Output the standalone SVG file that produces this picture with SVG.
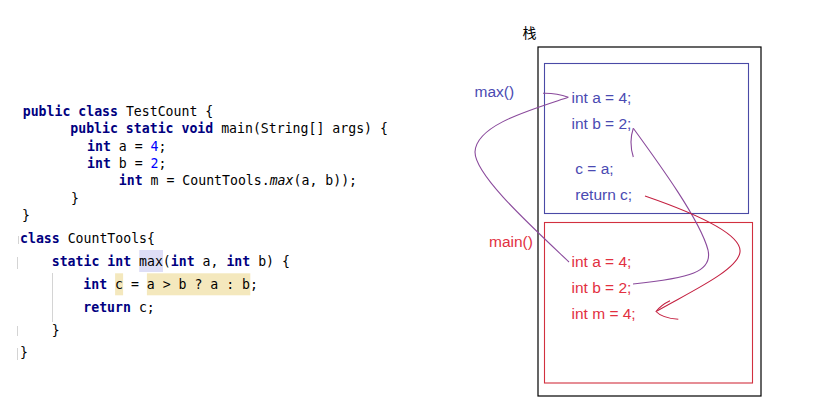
<svg xmlns="http://www.w3.org/2000/svg" width="828" height="406" viewBox="0 0 828 406">
<style>
.code{font-family:"DejaVu Sans Mono","Liberation Mono",monospace;font-size:13.2px;fill:#000}
.kw{font-weight:bold;fill:#000080}
.num{fill:#0000ff}
.it{font-style:italic}
.lbl{font-family:"Liberation Sans",Arial,sans-serif;font-size:15.5px}
.blue{fill:#4a4ab2}
.red{fill:#e2303f}
.guide{stroke:#d4d4d4;stroke-width:1}
.purple{fill:none;stroke:#8a4a9c;stroke-width:1.1}
.dred{fill:none;stroke:#c42040;stroke-width:1.1}
</style>
<rect width="828" height="406" fill="#fff"/>

<g id="code-testcount">
<text class="code" x="22.7" y="116"><tspan class="kw">public class</tspan> TestCount {</text>
<text class="code" x="70.3" y="133.3"><tspan class="kw">public static void</tspan> main(String[] args) {</text>
<text class="code" x="87" y="150.7"><tspan class="kw">int</tspan> a = <tspan class="num">4</tspan>;</text>
<text class="code" x="87" y="168"><tspan class="kw">int</tspan> b = <tspan class="num">2</tspan>;</text>
<text class="code" x="118.8" y="185.3"><tspan class="kw">int</tspan> m = CountTools.<tspan class="it">max</tspan>(a, b));</text>
<text class="code" x="71" y="202.6">}</text>
<text class="code" x="22" y="220">}</text>
</g>

<g id="code-counttools">
<rect x="139.2" y="250" width="23.8" height="22" fill="#dedef6"/>
<rect x="115.1" y="273.3" width="8" height="22" fill="#f4e8bd"/>
<rect x="146.9" y="273.3" width="103.4" height="22" fill="#f4e8bd"/>
<line class="guide" x1="18.5" y1="236" x2="18.5" y2="244"/>
<line class="guide" x1="17.5" y1="257" x2="17.5" y2="269"/>
<line class="guide" x1="17.5" y1="326" x2="17.5" y2="336"/>
<line class="guide" x1="17.5" y1="348" x2="17.5" y2="360"/>
<line class="guide" x1="52.5" y1="273" x2="52.5" y2="322"/>
<text class="code" x="20" y="243.3"><tspan class="kw">class</tspan> CountTools{</text>
<text class="code" x="51.7" y="266.3"><tspan class="kw">static int</tspan> max(<tspan class="kw">int</tspan> a, <tspan class="kw">int</tspan> b) {</text>
<text class="code" x="83.3" y="289.3"><tspan class="kw">int</tspan> c = a &gt; b ? a : b;</text>
<text class="code" x="83.3" y="311.7"><tspan class="kw">return</tspan> c;</text>
<text class="code" x="51.7" y="335">}</text>
<text class="code" x="20" y="357">}</text>
</g>

<g id="stack">
<text x="522.5" y="37.5" style="font-family:'Noto Sans CJK SC','Noto Sans',sans-serif;font-size:14px" fill="#000">栈</text>
<rect x="538" y="47" width="223" height="349" fill="none" stroke="#000" stroke-width="1.2"/>
</g>

<g id="frame-max">
<rect x="544.5" y="63.5" width="204" height="150" fill="none" stroke="#4a4aa6" stroke-width="1.1"/>
<text class="lbl blue" x="474.5" y="97">max()</text>
<text class="lbl blue" x="571.5" y="103.3">int a = 4;</text>
<text class="lbl blue" x="571.5" y="129">int b = 2;</text>
<text class="lbl blue" x="575.3" y="174">c = a;</text>
<text class="lbl blue" x="575.3" y="200">return c;</text>
</g>

<g id="frame-main">
<rect x="544.5" y="222.5" width="208" height="160.5" fill="none" stroke="#d2303f" stroke-width="1.1"/>
<text class="lbl red" x="489" y="247">main()</text>
<text class="lbl red" x="571.5" y="267">int a = 4;</text>
<text class="lbl red" x="571.5" y="292.7">int b = 2;</text>
<text class="lbl red" x="571.5" y="318.5">int m = 4;</text>
</g>

<g id="connectors">
<path class="purple" d="M543,93.3 C555,93 562,95 568.3,97.3"/>
<path class="purple" d="M568.3,97.3 C530,110 476,125 475,152 C475,175 530,225 569,262"/>
<path class="purple" d="M633.3,128.3 C630,138 630.5,148 633.3,157"/>
<path class="purple" d="M633.3,128.3 C660,165 700,220 708,250 C713,272 690,278 633,284"/>
<path class="dred" d="M645,196 C700,215 742,235 740,252 C738,270 690,292 657,311"/>
<path class="dred" d="M670,300.7 Q661,305 656,311.5 Q662,318 678.3,319.3"/>
</g>
</svg>
